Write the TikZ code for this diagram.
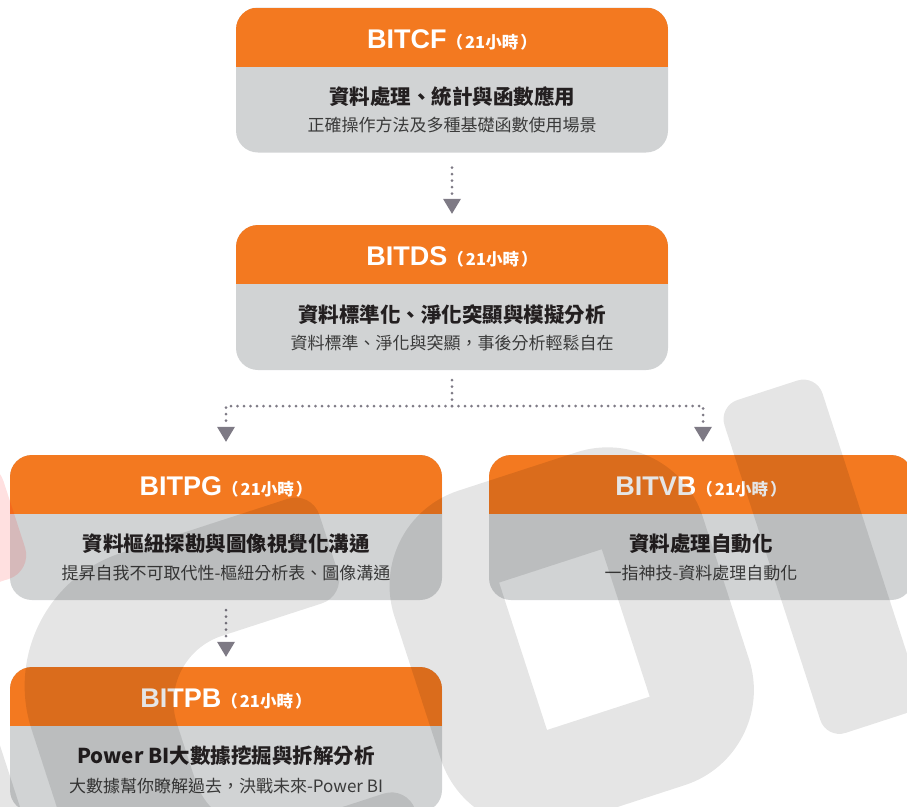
\documentclass[tikz,border=0pt]{standalone}
\usepackage{fontspec}
\setmainfont{Liberation Sans}
\newfontfamily\cjk{Noto Sans CJK TC}
\usetikzlibrary{arrows.meta}

\definecolor{headorange}{HTML}{F37920}
\definecolor{boxgray}{HTML}{D1D3D4}
\definecolor{maintext}{HTML}{231F20}
\definecolor{subtext}{HTML}{3A3A3A}
\definecolor{dotgray}{HTML}{7E7A85}

\newcommand{\coursecode}[1]{{\bfseries\fontsize{27}{30}\selectfont #1}{\cjk\bfseries\fontsize{16.5}{18}\selectfont （\kern2pt 21小時\kern2pt ）}}

\begin{document}
\begin{tikzpicture}[
                x = 1pt, y = -1pt,
                course/.style = {draw = none, fill = boxgray, rounded corners = 22pt, inner sep = 0pt,
                    minimum width = 432pt, minimum height = 145pt,
                    path picture = {\fill[headorange, sharp corners] (path picture bounding box.north west)
                        rectangle ([yshift=-59pt]path picture bounding box.north east);}},
                coursetitle/.style = {text = white, anchor = base, inner sep = 0pt},
                coursemain/.style = {text = maintext, inner sep = 0pt, font = \cjk\bfseries\fontsize{20.5}{24}\selectfont},
                coursesub/.style = {text = subtext, inner sep = 0pt, font = \cjk\fontsize{17}{20}\selectfont},
                dots/.style = {draw = dotgray, line width = 3pt, line cap = round, dash pattern = on 0pt off 6.5pt},
                flow/.style = {dots, -{Triangle[width = 18pt, length = 15pt, line width = 0pt]}},
                wmark/.style = {fill = black, fill opacity = 0.1},
            ]
            \useasboundingbox (0,0) rectangle (907,806);

            % course boxes
            \node (cf) [course] at (452,80) {};
            \node (ds) [course] at (452,297.5) {};
            \node (pg) [course] at (226,527.5) {};
            \node (vb) [course, minimum width = 424pt] at (701,527.5) {};
            \node (pb) [course] at (226,739.5) {};

            \node (cf-t) [coursetitle] at ([yshift=-41pt]cf.north) {\coursecode{BITCF}};
            \node (cf-m) [coursemain] at ([yshift=-89pt]cf.north) {資料處理、統計與函數應用};
            \node (cf-s) [coursesub] at ([yshift=-118pt]cf.north) {正確操作方法及多種基礎函數使用場景};

            \node (ds-t) [coursetitle] at ([yshift=-41pt]ds.north) {\coursecode{BITDS}};
            \node (ds-m) [coursemain] at ([yshift=-90pt]ds.north) {資料標準化、淨化突顯與模擬分析};
            \node (ds-s) [coursesub] at ([yshift=-118pt]ds.north) {資料標準、淨化與突顯，事後分析輕鬆自在};

            \node (pg-t) [coursetitle] at ([yshift=-41pt]pg.north) {\coursecode{BITPG}};
            \node (pg-m) [coursemain] at ([yshift=-89pt]pg.north) {資料樞紐探勘與圖像視覺化溝通};
            \node (pg-s) [coursesub] at ([yshift=-118pt]pg.north) {提昇自我不可取代性-樞紐分析表、圖像溝通};

            \node (vb-t) [coursetitle] at ([yshift=-41pt]vb.north) {\coursecode{BITVB}};
            \node (vb-m) [coursemain] at ([yshift=-89pt]vb.north) {資料處理自動化};
            \node (vb-s) [coursesub] at ([yshift=-118pt]vb.north) {一指神技-資料處理自動化};

            \node (pb-t) [coursetitle] at ([yshift=-41pt]pb.north) {\coursecode{BITPB}};
            \node (pb-m) [coursemain] at ([yshift=-89pt]pb.north) {Power BI大數據挖掘與拆解分析};
            \node (pb-s) [coursesub] at ([yshift=-119pt]pb.north) {大數據幫你瞭解過去，決戰未來-Power BI};

            % dotted links
            \coordinate (fork) at (452,406);
            \draw[flow, shorten <= 15pt, shorten >= 11pt] (cf.south) -- (ds.north);
            \draw[dots, shorten <= 10pt] (ds.south) -- (fork);
            \draw[flow, shorten >= 13pt] (fork) -| (pg.north);
            \draw[flow, shorten >= 13pt] (fork) -| ([xshift=2pt]vb.north);
            \draw[flow, shorten <= 10pt, shorten >= 10pt] (pg.south) -- (pb.north);

            % watermark
            \begin{scope}[shift = {(547,730)}, rotate = 18]
                \fill[fill = red, fill opacity = 0.12, rounded corners = 25pt] (-540,-430) rectangle (-440,-310);
                \fill[wmark, rounded corners = 20pt] (-625,-255) rectangle (-525,95);
                \fill[wmark] (-150,-245)
                    [rounded corners = 25pt] -- (-150,-300)
                    [rounded corners = 140pt] -- (-490,-300) -- (-490,120)
                    [rounded corners = 25pt] -- (-150,120) -- (-150,10)
                    [rounded corners = 70pt] -- (-350,10) -- (-350,-190)
                    [rounded corners = 25pt] -- (-150,-190) -- cycle;
                \fill[wmark, even odd rule] [rounded corners = 100pt] (-110,-255) rectangle (214,95)
                    [sharp corners] (0,-155) rectangle (108,0);
                \fill[wmark, rounded corners = 20pt] (263,-255) rectangle (366,95);
            \end{scope}
        \end{tikzpicture}
\end{document}
